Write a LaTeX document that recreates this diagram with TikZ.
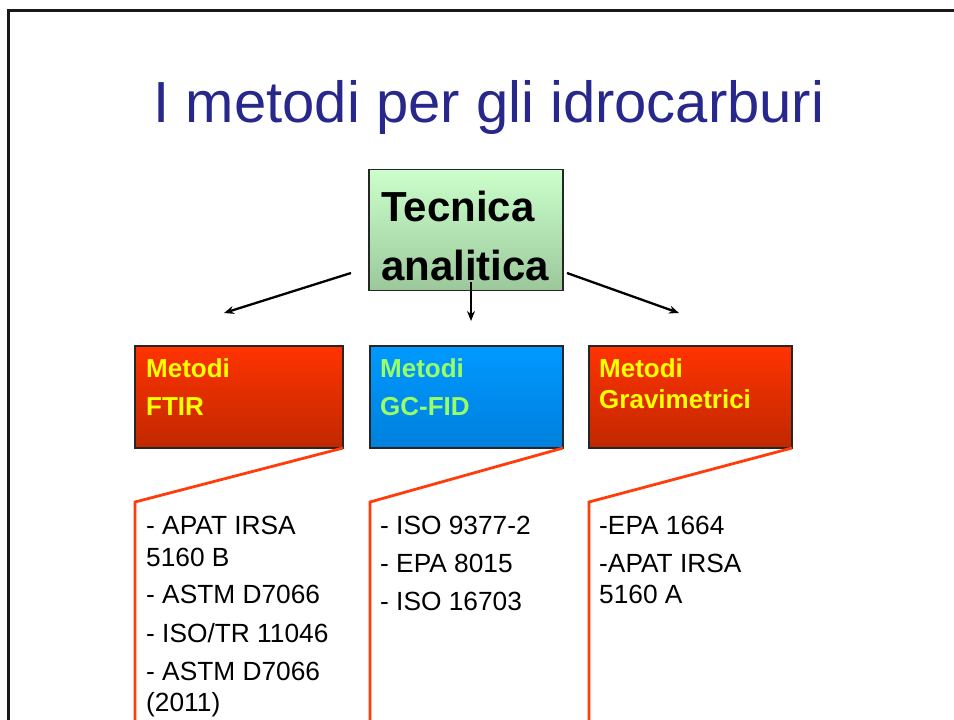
\documentclass[tikz,border=0pt]{standalone}
\usepackage{fontspec}
\setmainfont{Liberation Sans}
\usetikzlibrary{arrows.meta}
\definecolor{titleblue}{RGB}{40,40,140}
\definecolor{greentop}{RGB}{204,255,204}
\definecolor{greenbot}{RGB}{155,200,155}
\definecolor{redtop}{RGB}{255,51,0}
\definecolor{redbot}{RGB}{192,40,0}
\definecolor{bluetop}{RGB}{0,153,255}
\definecolor{bluebot}{RGB}{0,128,221}
\definecolor{yellowtxt}{RGB}{255,255,0}
\definecolor{greentxt}{RGB}{153,255,102}
\definecolor{calloutc}{RGB}{255,60,10}
\tikzset{
  boxbase/.style={draw=black!85, line width=1.3pt, inner sep=0pt, outer sep=0pt},
  greenbox/.style={boxbase, top color=greentop, bottom color=greenbot, minimum width=194pt, minimum height=121pt},
  redbox/.style={boxbase, top color=redtop, bottom color=redbot, minimum width=208pt, minimum height=102pt},
  bluebox/.style={boxbase, top color=bluetop, bottom color=bluebot, minimum width=193pt, minimum height=102pt},
  arr/.style={line width=2.3pt, -{Stealth[length=10pt,width=8pt]}},
  callout/.style={draw=calloutc, line width=2.8pt, line join=miter},
  bigtxt/.style={anchor=base west, inner sep=0pt, font=\bfseries\fontsize{42}{50}\selectfont},
  hdtxt/.style={anchor=base west, inner sep=0pt, font=\bfseries\fontsize{26}{31}\selectfont},
  itemtxt/.style={anchor=base west, inner sep=0pt, font=\fontsize{26.3}{31}\selectfont},
}
\begin{document}
\begin{tikzpicture}[x=1pt,y=-1pt]
\useasboundingbox (0,0) rectangle (954,720);
% frame
\draw[line width=3pt, black!90] (8,722) -- (8,10) -- (956,10);
% title
\node[anchor=base, inner sep=0pt, text=titleblue, font=\fontsize{58}{70}\selectfont] (title) at (489,122) {I metodi per gli idrocarburi};
% central box
\node[greenbox] (tec) at (466,230) {};
\node[bigtxt] (tec1) at (381,221) {Tecnica};
\node[bigtxt] (tec2) at (381,280) {analitica};
% method boxes
\node[redbox] (ftir) at (239,397) {};
\node[bluebox] (gc) at (466.5,397) {};
\node[redbox, minimum width=203pt] (grav) at (690.5,397) {};
\node[hdtxt, text=yellowtxt] (ftir1) at (146,377) {Metodi};
\node[hdtxt, text=yellowtxt] (ftir2) at (146,415) {FTIR};
\node[hdtxt, text=greentxt] (gc1) at (380,377) {Metodi};
\node[hdtxt, text=greentxt] (gc2) at (380,415) {GC-FID};
\node[hdtxt, text=yellowtxt] (grav1) at (599,377) {Metodi};
\node[hdtxt, text=yellowtxt] (grav2) at (599,408) {Gravimetrici};
% arrows
\coordinate (aLs) at (351,273);
\coordinate (aLe) at (224,313);
\coordinate (aMs) at (471,282);
\coordinate (aMe) at (471,321);
\coordinate (aRs) at (567,273);
\coordinate (aRe) at (679,313);
\draw[arr] (aLs) -- (aLe);
\draw[arr] (aMs) -- (aMe);
\draw[arr] (aRs) -- (aRe);
% callouts
\coordinate (cf) at (135,502);
\coordinate (cfb) at (135,724);
\coordinate (cg) at (370,502);
\coordinate (cgb) at (370,724);
\coordinate (cr) at (589,502);
\coordinate (crb) at (589,724);
\draw[callout] (ftir.south east) -- (cf) -- (cfb);
\draw[callout] (gc.south east) -- (cg) -- (cgb);
\draw[callout] (grav.south east) -- (cr) -- (crb);
% items FTIR
\node[itemtxt] (f1) at (146,534) {- APAT IRSA};
\node[itemtxt] (f2) at (146,566) {5160 B};
\node[itemtxt] (f3) at (146,603) {- ASTM D7066};
\node[itemtxt] (f4) at (146,642) {- ISO/TR 11046};
\node[itemtxt] (f5) at (146,680) {- ASTM D7066};
\node[itemtxt] (f6) at (146,711) {(2011)};
% items GC
\node[itemtxt] (g1) at (380,534) {- ISO 9377-2};
\node[itemtxt] (g2) at (380,572) {- EPA 8015};
\node[itemtxt] (g3) at (380,610) {- ISO 16703};
% items Grav
\node[itemtxt] (r1) at (599,534) {-EPA 1664};
\node[itemtxt] (r2) at (599,572) {-APAT IRSA};
\node[itemtxt] (r3) at (599,603) {5160 A};
\end{tikzpicture}
\end{document}
